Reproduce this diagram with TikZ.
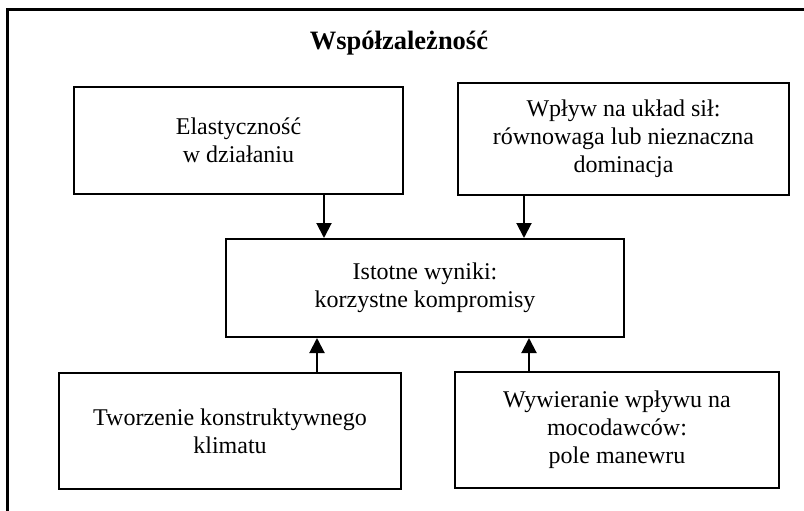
\documentclass[tikz,border=0pt]{standalone}
\usepackage{fontspec}
\setmainfont{Liberation Serif}
\usetikzlibrary{arrows.meta}
\begin{document}
\begin{tikzpicture}[x=1pt,y=-1pt,
  box/.style={draw,line width=2pt,inner sep=0pt,align=center,
    font=\fontsize{24}{28}\selectfont},
  arr/.style={line width=2pt,-{Triangle[width=15pt,length=15pt]}}]
\useasboundingbox (0,0) rectangle (804,511);
\fill[white] (0,0) rectangle (804,511);
\draw[line width=3pt] (804,10) -- (7,10) -- (7,511);
\node[font=\fontsize{26.5}{30}\selectfont\bfseries] (t) at (399,43) {Współzależność};
\node[box,minimum width=329pt,minimum height=107pt] (b1) at (238.5,140.5)
  {Elastyczność\\w działaniu};
\node[box,minimum width=331pt,minimum height=112pt] (b2) at (623.5,139)
  {Wpływ na układ sił:\\równowaga lub nieznaczna\\dominacja};
\node[box,minimum width=398pt,minimum height=98pt] (c) at (425,288)
  {Istotne wyniki:\\korzystne kompromisy};
\node[box,minimum width=342pt,minimum height=116pt] (b3) at (230,431)
  {Tworzenie konstruktywnego\\klimatu};
\node[box,minimum width=324pt,minimum height=116pt] (b4) at (617,430)
  {Wywieranie wpływu na\\mocodawców:\\pole manewru};
\draw[arr] (324,0 |- b1.south) -- (324,0 |- c.north);
\draw[arr] (524,0 |- b2.south) -- (524,0 |- c.north);
\draw[arr] (317,0 |- b3.north) -- (317,0 |- c.south);
\draw[arr] (529,0 |- b4.north) -- (529,0 |- c.south);
\end{tikzpicture}
\end{document}
